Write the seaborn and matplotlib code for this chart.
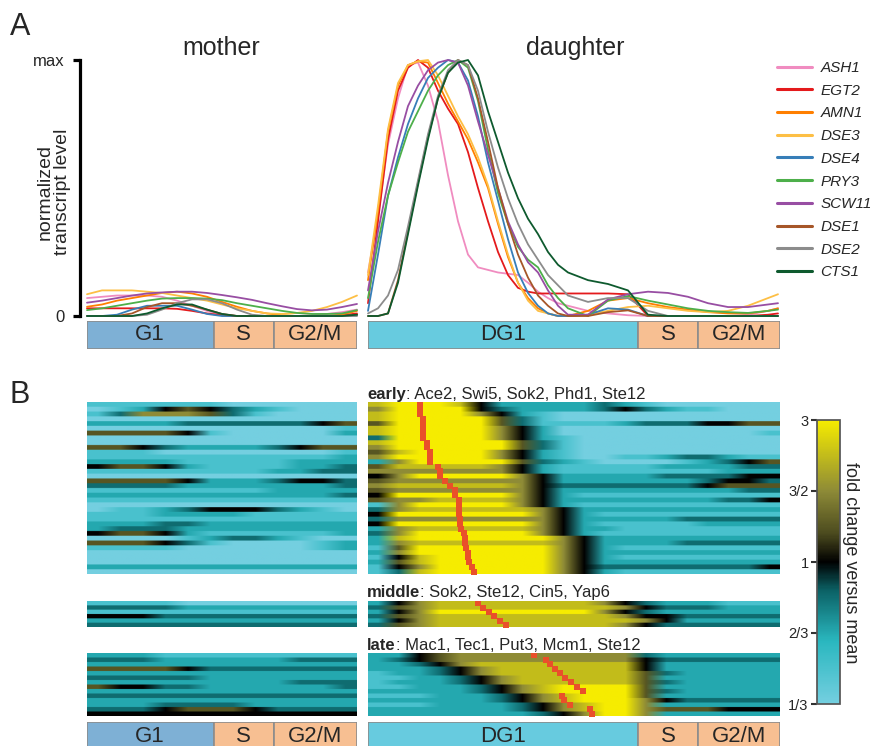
import numpy as np
import pandas as pd
import matplotlib
matplotlib.use("Agg")
import matplotlib.pyplot as plt
import seaborn as sns
from matplotlib.colors import LinearSegmentedColormap, Normalize
from matplotlib.cm import ScalarMappable

# ---------------- data ----------------
genes = ["ASH1", "EGT2", "AMN1", "DSE3", "DSE4", "PRY3", "SCW11", "DSE1", "DSE2", "CTS1"]
gene_colors = ["#f08cc0", "#e41a1c", "#ff7f00", "#fdbf45", "#377eb8",
               "#4daf4a", "#984ea3", "#a65628", "#8c8c8c", "#0e5a2e"]

# time axis (arbitrary units, 10 px each in the original)
mother_t = [0, 1.5, 3, 4.5, 6, 7.5, 9, 10.5, 12, 13.5, 15, 16.5, 18, 19.5, 21, 22.5, 24, 25.5, 27]
daughter_t = list(range(0, 21)) + [22, 24, 26, 28, 30, 32, 34, 36, 38, 40, 41]

mother_levels = [
    [0.07, 0.075, 0.08, 0.08, 0.08, 0.075, 0.06, 0.04, 0.02, 0.005, 0, 0, 0, 0, 0, 0.003, 0.008, 0.015, 0.025],
    [0.03, 0.03, 0.03, 0.03, 0.03, 0.03, 0.028, 0.02, 0.01, 0.003, 0, 0, 0, 0, 0, 0, 0, 0.003, 0.01],
    [0.036, 0.045, 0.06, 0.07, 0.08, 0.09, 0.095, 0.088, 0.075, 0.055, 0.036, 0.02, 0.01, 0.003, 0, 0, 0, 0.005, 0.02],
    [0.085, 0.1, 0.1, 0.1, 0.095, 0.09, 0.08, 0.07, 0.06, 0.045, 0.03, 0.02, 0.01, 0.008, 0.012, 0.02, 0.035, 0.055, 0.08],
    [0, 0, 0.005, 0.025, 0.04, 0.04, 0.04, 0.025, 0.008, 0, 0, 0, 0, 0, 0, 0, 0, 0, 0.003],
    [0.023, 0.03, 0.04, 0.05, 0.06, 0.068, 0.07, 0.07, 0.068, 0.062, 0.05, 0.04, 0.03, 0.02, 0.012, 0.008, 0.008, 0.01, 0.023],
    [0.052, 0.06, 0.07, 0.08, 0.088, 0.092, 0.095, 0.095, 0.09, 0.082, 0.073, 0.063, 0.05, 0.038, 0.027, 0.022, 0.025, 0.035, 0.047],
    [0, 0, 0, 0.01, 0.035, 0.05, 0.05, 0.04, 0.025, 0.008, 0, 0, 0, 0, 0, 0, 0, 0, 0.005],
    [0, 0, 0, 0, 0.005, 0.025, 0.05, 0.065, 0.065, 0.05, 0.025, 0.005, 0, 0, 0, 0, 0, 0, 0],
    [0, 0, 0, 0, 0.01, 0.03, 0.045, 0.045, 0.025, 0.008, 0, 0, 0, 0, 0, 0, 0, 0, 0.005],
]

daughter_levels = [
    [0.17, 0.39, 0.67, 0.85, 0.98, 0.99, 0.9, 0.76, 0.55, 0.37, 0.24, 0.19, 0.18, 0.17, 0.165, 0.16, 0.13, 0.095, 0.07, 0.05, 0.04,
     0.02, 0.01, 0.003, 0, 0, 0, 0, 0, 0.005, 0.02, 0.03],
    [0.05, 0.37, 0.69, 0.88, 0.97, 1.0, 0.97, 0.88, 0.81, 0.75, 0.64, 0.5, 0.37, 0.25, 0.16, 0.11, 0.095, 0.088, 0.088, 0.088, 0.088,
     0.088, 0.088, 0.085, 0, 0, 0, 0, 0, 0, 0.005, 0.01],
    [0.14, 0.41, 0.72, 0.9, 0.98, 0.995, 0.99, 0.91, 0.83, 0.76, 0.69, 0.6, 0.5, 0.36, 0.23, 0.13, 0.07, 0.03, 0.01, 0, 0,
     0.02, 0.06, 0.07, 0.05, 0.035, 0.025, 0.015, 0.01, 0.01, 0.02, 0.03],
    [0.16, 0.43, 0.73, 0.91, 0.98, 0.995, 1.0, 0.94, 0.86, 0.78, 0.71, 0.62, 0.51, 0.37, 0.24, 0.13, 0.06, 0.02, 0.01, 0, 0,
     0.005, 0.02, 0.035, 0.04, 0.03, 0.02, 0.015, 0.02, 0.04, 0.07, 0.085],
    [0.02, 0.24, 0.47, 0.62, 0.75, 0.85, 0.93, 0.97, 1.0, 0.99, 0.92, 0.78, 0.6, 0.45, 0.3, 0.17, 0.09, 0.04, 0.01, 0, 0,
     0.005, 0.03, 0.025, 0, 0, 0, 0, 0, 0, 0, 0],
    [0.07, 0.29, 0.47, 0.6, 0.72, 0.8, 0.88, 0.94, 0.98, 1.0, 0.97, 0.84, 0.65, 0.48, 0.36, 0.27, 0.22, 0.19, 0.12, 0.07, 0.03,
     0.0, 0.06, 0.078, 0.06, 0.045, 0.03, 0.02, 0.015, 0.012, 0.02, 0.025],
    [0.1, 0.33, 0.52, 0.68, 0.82, 0.9, 0.96, 0.99, 1.0, 0.99, 0.9, 0.76, 0.63, 0.5, 0.37, 0.28, 0.21, 0.17, 0.1, 0.04, 0.005,
     0.005, 0.065, 0.085, 0.095, 0.09, 0.075, 0.05, 0.035, 0.035, 0.045, 0.05],
    [0, 0, 0.01, 0.14, 0.33, 0.52, 0.7, 0.85, 0.95, 1.0, 0.98, 0.85, 0.68, 0.5, 0.36, 0.24, 0.15, 0.08, 0.04, 0.01, 0,
     0, 0.015, 0.022, 0, 0, 0, 0, 0, 0, 0, 0],
    [0.01, 0.03, 0.08, 0.18, 0.35, 0.53, 0.71, 0.86, 0.96, 1.0, 0.98, 0.88, 0.72, 0.58, 0.46, 0.36, 0.28, 0.22, 0.16, 0.12, 0.08,
     0.055, 0.07, 0.07, 0.02, 0, 0, 0, 0, 0, 0, 0],
    [0, 0, 0.01, 0.13, 0.32, 0.51, 0.69, 0.85, 0.95, 0.99, 1.0, 0.94, 0.8, 0.68, 0.56, 0.46, 0.38, 0.32, 0.25, 0.2, 0.17,
     0.14, 0.125, 0.1, 0.005, 0, 0, 0, 0, 0, 0, 0],
]

# cell-cycle phases: (label, start, stop, colour)
mother_phases = [("G1", 0, 12.65, "#7eb0d5"), ("S", 12.65, 18.65, "#f7bf92"), ("G2/M", 18.65, 27, "#f7bf92")]
daughter_phases = [("DG1", 0, 27, "#67cbdf"), ("S", 27, 33, "#f7bf92"), ("G2/M", 33, 41.2, "#f7bf92")]

# heatmap levels 0..8 (0 = 1/3, 2 = 2/3, 4 = 1, 6 = 3/2, 8 = 3 fold vs mean)
early_mother = [
    "111111000000", "012454321000", "136665310000", "000000000000", "222233333345",
    "000000000001", "555541000002", "000000000000", "000000000000", "554322223455",
    "111000000001", "111111111112", "222211111222", "455421111223", "111111112233",
    "000000000000", "555542223443", "333322222223", "111111112222", "222222222223",
    "111111111111", "000000000000", "011234443210", "111222211111", "111111111111",
    "222332222222", "233322222222", "455421111112", "000012332100", "555431000012",
    "111100000012", "000000000000", "000000000000", "000000000000", "222222222222",
    "000000000000",
]
early_daughter = [
    "78887422222321000000", "68888432222343211000", "78888642100000000000", "78888853100000000000",
    "58888853111123334455", "78888864200000000000", "78888864200000000001", "38888864210000000000",
    "78888885310000000000", "68888885310000000000", "57888864210000000000", "68888864210011233211",
    "26888885321000012345", "57777764211111222233", "66666664211111111222", "46888886422222333344",
    "56666666422222223443", "67777776433333334555", "56666666422222222233", "48888886421111111111",
    "56677776422222222334", "16888886421111111111", "36777777642222222222", "48888888642111111111",
    "36666666642222233333", "48888888642111112222", "26777777642211111111", "36888888642111111111",
    "27888888864222222222", "26777777764222233333", "15888888864211111111", "26888888864222222222",
    "14788888864211111111", "25788888864222222222", "14688888864333333334", "13788888864211111111",
]
middle_mother = ["111100000000", "333322222222", "111111111111", "444333333333", "222222222222", "333333333333"]
middle_daughter = [
    "24677777777643222111", "35677777777764333222", "24688888888643222222",
    "35677777777764433333", "24677777777776422222", "35677777777764333333",
]
late_mother = [
    "222111111111", "333222222333", "222222222222", "555543333333", "222222222222",
    "333332222222", "222222222333", "544332222223", "222222222222", "333333333333",
    "222222222222", "222333322222", "333455543333", "444444444444",
]
late_daughter = [
    "22456666666663222222", "23456666666664333333", "22346777777774222222", "22234677777774222222",
    "12234677777775322222", "11223467777775222222", "12223467777775322222", "11222346788885222222",
    "22222346788885322222", "11122234678885222222", "22222234678886433333", "11122223467886222222",
    "22222223467886555444", "22222222346886222222",
]
early_peak = [5.2, 5.2, 5.2, 5.5, 5.5, 5.5, 5.5, 5.5, 5.9, 5.9, 6.2, 6.2, 6.2, 7.0, 7.2, 7.2, 7.7, 8.2,
              8.7, 8.7, 9.1, 9.1, 9.1, 9.1, 9.2, 9.2, 9.3, 9.6, 9.7, 9.7, 9.8, 10.0, 10.0, 10.1, 10.4, 10.6]
middle_peak = [11.0, 11.5, 12.1, 12.6, 13.2, 13.8]
late_peak = [16.6, 17.8, 18.2, 18.7, 19.2, 19.7, 20.3, 20.9, 21.5, 19.4, 19.6, 20.2, 22.2, 22.4]

cbar_ticks = [0, 2, 4, 6, 8]
cbar_labels = ["1/3", "2/3", "1", "3/2", "3"]

# ---------------- style ----------------
sns.set_theme(style="white")
plt.rcParams["font.family"] = ["Liberation Sans", "DejaVu Sans"]

W, H = 874, 746
fig = plt.figure(figsize=(W / 100, H / 100), dpi=100)


def box(x0, y0, x1, y1):
    return [x0 / W, 1 - y1 / H, (x1 - x0) / W, (y1 - y0) / H]


fold_cmap = LinearSegmentedColormap.from_list(
    "fold", [(0, "#74cfe0"), (0.22, "#2ab7bf"), (0.4, "#0b6165"), (0.5, "#000000"),
             (0.6, "#4b4a1e"), (0.75, "#8d8a37"), (1, "#f6ec00")])
peak_color = "#e9502a"

# ---------------- panel A: lines ----------------
long_m = pd.DataFrame([(g, t, v) for g, vals in zip(genes, mother_levels) for t, v in zip(mother_t, vals)],
                      columns=["gene", "t", "level"])
long_d = pd.DataFrame([(g, t, v) for g, vals in zip(genes, daughter_levels) for t, v in zip(daughter_t, vals)],
                      columns=["gene", "t", "level"])
pal = dict(zip(genes, gene_colors))

ax_m = fig.add_axes(box(87, 60, 357, 316))
ax_d = fig.add_axes(box(368, 60, 780, 316))
sns.lineplot(data=long_m, x="t", y="level", hue="gene", hue_order=genes, palette=pal,
             ax=ax_m, lw=1.3, legend=False, clip_on=False)
sns.lineplot(data=long_d, x="t", y="level", hue="gene", hue_order=genes, palette=pal,
             ax=ax_d, lw=1.3, legend=True, clip_on=False)
ax_m.set_xlim(0, 27)
ax_d.set_xlim(0, 41.2)
for ax in (ax_m, ax_d):
    ax.set_ylim(0, 1)
    ax.set_xlabel("")
    ax.set_ylabel("")
    ax.set_xticks([])
    for s in ("top", "right", "bottom"):
        ax.spines[s].set_visible(False)
    ax.patch.set_alpha(0)
ax_d.spines["left"].set_visible(False)
ax_d.set_yticks([])
ax_m.spines["left"].set_position(("outward", 5))
ax_m.spines["left"].set_linewidth(2.3)
ax_m.spines["left"].set_color("black")
ax_m.set_yticks([0, 1])
ax_m.set_yticklabels(["0", "max"], fontsize=12)
ax_m.tick_params(axis="y", length=5, width=2.3, pad=6, left=True, color="black")

fig.text(221 / W, 1 - 48 / H, "mother", fontsize=18, ha="center", va="center")
fig.text(575 / W, 1 - 48 / H, "daughter", fontsize=18, ha="center", va="center")
fig.text(54 / W, 1 - 192 / H, "normalized\ntranscript level", rotation=90,
         ha="center", va="center", fontsize=14, linespacing=1.0)

leg = ax_d.legend(loc="upper left", bbox_to_anchor=(777 / W, 1 - 61 / H), bbox_transform=fig.transFigure,
                  frameon=False, handlelength=2.3, handletextpad=0.55, labelspacing=0.57,
                  borderpad=0, borderaxespad=0, prop={"style": "italic", "size": 11})
for line in leg.get_lines():
    line.set_linewidth(2.2)


def phase_bar(rect, phases, xmax):
    ax = fig.add_axes(box(*rect))
    for name, start, stop, color in phases:
        ax.barh(0.5, stop - start, left=start, height=1, color=color, edgecolor="#8c8c8c", linewidth=1.2)
        ax.text((start + stop) / 2, 0.5, name, ha="center", va="center", fontsize=16)
    ax.set_xlim(0, xmax)
    ax.set_ylim(0, 1)
    ax.axis("off")


phase_bar((87, 321, 357, 349), mother_phases, 27)
phase_bar((368, 321, 780, 349), daughter_phases, 41.2)

# ---------------- panel B: heatmaps ----------------


def heat(rect, rows, xmax, peaks=None):
    ax = fig.add_axes(box(*rect))
    arr = np.array([[int(c) for c in r] for r in rows], dtype=float)
    ax.imshow(np.repeat(arr, 4, axis=0), cmap=fold_cmap, vmin=0, vmax=8, aspect="auto",
              interpolation="bilinear", extent=(0, xmax, len(rows), 0))
    if peaks is not None:
        ax.plot(peaks, np.arange(len(peaks)) + 0.5, "s", color=peak_color, ms=4.5, mew=0)
    ax.set_xlim(0, xmax)
    ax.set_ylim(len(rows), 0)
    ax.axis("off")
    return ax


heat((87, 402, 357, 574), early_mother, 27)
heat((368, 402, 780, 574), early_daughter, 41.2, early_peak)
heat((87, 601, 357, 627), middle_mother, 27)
heat((368, 601, 780, 627), middle_daughter, 41.2, middle_peak)
heat((87, 653, 357, 716), late_mother, 27)
heat((368, 653, 780, 716), late_daughter, 41.2, late_peak)

phase_bar((87, 722, 357, 750), mother_phases, 27)
phase_bar((368, 722, 780, 750), daughter_phases, 41.2)


def group_label(y, bold, rest):
    t = fig.text(367 / W, 1 - y / H, bold, fontsize=12, fontweight="bold", ha="left", va="baseline")
    plt.annotate(rest, xy=(1, 0), xycoords=t, va="bottom", ha="left", fontsize=12,
                 annotation_clip=False)


group_label(399, "early", ": Ace2, Swi5, Sok2, Phd1, Ste12")
group_label(597, "middle", ": Sok2, Ste12, Cin5, Yap6")
group_label(650, "late", ": Mac1, Tec1, Put3, Mcm1, Ste12")

# colour bar
cax = fig.add_axes(box(817, 420, 840, 704))
sm = ScalarMappable(norm=Normalize(0, 8), cmap=fold_cmap)
cb = fig.colorbar(sm, cax=cax, ticks=cbar_ticks)
cb.set_ticklabels(cbar_labels)
cb.outline.set_edgecolor("#555555")
cax.yaxis.set_ticks_position("left")
cax.tick_params(axis="y", length=4, width=1.5, labelsize=10.5, pad=2, color="#333333")
fig.text(851 / W, 1 - 563 / H, "fold change versus mean", rotation=-90,
         ha="center", va="center", fontsize=13)

fig.text(20 / W, 1 - 27 / H, "A", fontsize=22, ha="center", va="center")
fig.text(20 / W, 1 - 395 / H, "B", fontsize=22, ha="center", va="center")

fig.savefig("out.png", dpi=100)
